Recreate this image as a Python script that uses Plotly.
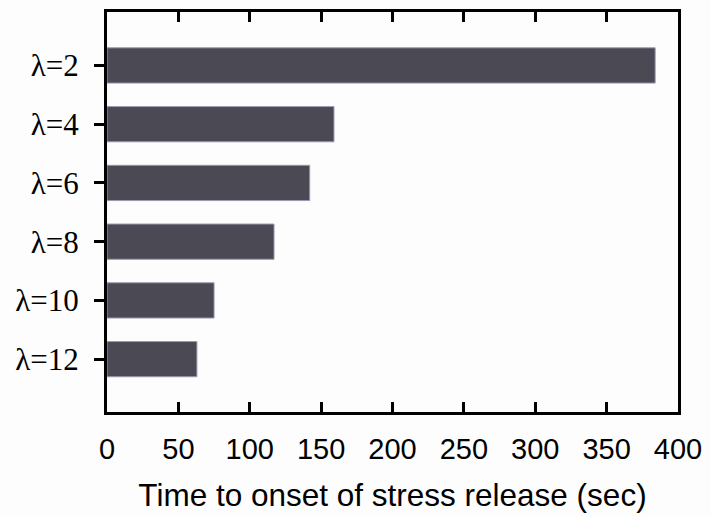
import plotly.graph_objects as go

# Onset time of stress release for each lambda setting
categories = ["λ=2", "λ=4", "λ=6", "λ=8", "λ=10", "λ=12"]
onset_sec = [384, 159, 142, 117, 75, 63]
x_ticks = [0, 50, 100, 150, 200, 250, 300, 350, 400]

fig = go.Figure(
    go.Bar(
        x=onset_sec,
        y=categories,
        orientation="h",
        width=0.6,
        marker=dict(color="#4a4954", line=dict(color="#9a9ab2", width=1)),
    )
)

fig.update_layout(
    width=711,
    height=517,
    margin=dict(l=107, r=28, t=9, b=103),
    paper_bgcolor="#fdfdfd",
    plot_bgcolor="#fdfdfd",
    showlegend=False,
    bargap=0.4,
)

fig.update_xaxes(
    range=[0, 400],
    tickvals=x_ticks,
    ticks="inside",
    ticklen=10,
    tickwidth=2.5,
    tickcolor="black",
    showline=True,
    linecolor="black",
    linewidth=3,
    mirror="ticks",
    showgrid=False,
    zeroline=False,
    ticklabelstandoff=9,
    tickfont=dict(family="Liberation Sans", size=29, color="black"),
    title=dict(
        text="Time to onset of stress release (sec)",
        font=dict(family="Liberation Sans", size=31.5, color="black"),
        standoff=21,
    ),
)

fig.update_yaxes(
    type="category",
    categoryorder="array",
    categoryarray=categories,
    range=[5.9, -0.91],
    ticks="outside",
    ticklen=10,
    tickwidth=3,
    tickcolor="black",
    showline=True,
    linecolor="black",
    linewidth=3,
    mirror=True,
    showgrid=False,
    zeroline=False,
    ticklabelstandoff=9,
    tickfont=dict(family="Liberation Serif", size=31, color="black"),
)

fig.write_html("out.html")
